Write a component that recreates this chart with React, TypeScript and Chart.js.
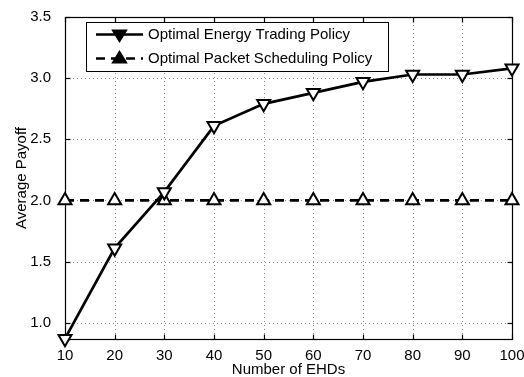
import React, { useEffect, useRef } from "react";
import { Chart, registerables } from "chart.js";
Chart.register(...registerables);

const ehds = [10, 20, 30, 40, 50, 60, 70, 80, 90, 100];
const energyTrading = [0.87, 1.61, 2.07, 2.61, 2.79, 2.88, 2.97, 3.03, 3.03, 3.08];
const packetScheduling = [2.0, 2.0, 2.0, 2.0, 2.0, 2.0, 2.0, 2.0, 2.0, 2.0];
const yTicks = [1.0, 1.5, 2.0, 2.5, 3.0, 3.5];
const xTicks = ehds;
const seriesNames = ["Optimal Energy Trading Policy", "Optimal Packet Scheduling Policy"];

const FONT = "Liberation Sans, Arial, Helvetica, sans-serif";
const FS = 15;

function drawTri(ctx: CanvasRenderingContext2D, cx: number, cy: number, r: number, down: boolean) {
  ctx.beginPath();
  if (down) {
    ctx.moveTo(cx - r, cy - r * 0.6);
    ctx.lineTo(cx + r, cy - r * 0.6);
    ctx.lineTo(cx, cy + r * 1.0);
  } else {
    ctx.moveTo(cx - r, cy + r * 0.6);
    ctx.lineTo(cx + r, cy + r * 0.6);
    ctx.lineTo(cx, cy - r * 1.0);
  }
  ctx.closePath();
}

const framePlugin = {
  id: "frame",
  beforeDatasetsDraw(chart: any) {
    const { ctx, chartArea: a, scales } = chart;
    const x = scales.x, y = scales.y;
    ctx.save();
    ctx.strokeStyle = "#8a8a8a";
    ctx.lineWidth = 1;
    ctx.setLineDash([1, 3]);
    for (const xv of xTicks) {
      const px = Math.round(x.getPixelForValue(xv)) + 0.5;
      if (px <= a.left + 1 || px >= a.right - 1) continue;
      ctx.beginPath(); ctx.moveTo(px, a.top); ctx.lineTo(px, a.bottom); ctx.stroke();
    }
    for (const yv of yTicks) {
      const py = Math.round(y.getPixelForValue(yv)) + 0.5;
      if (py <= a.top + 1 || py >= a.bottom - 1) continue;
      ctx.beginPath(); ctx.moveTo(a.left, py); ctx.lineTo(a.right, py); ctx.stroke();
    }
    ctx.setLineDash([]);
    ctx.strokeStyle = "#000";
    ctx.lineWidth = 1.2;
    const L = Math.round(a.left) + 0.5, R = Math.round(a.right) + 0.5;
    const T = Math.round(a.top) + 0.5, B = Math.round(a.bottom) + 0.5;
    ctx.strokeRect(L, T, R - L, B - T);
    const tl = 5;
    for (const xv of xTicks) {
      const px = Math.round(x.getPixelForValue(xv)) + 0.5;
      ctx.beginPath(); ctx.moveTo(px, B); ctx.lineTo(px, B - tl); ctx.stroke();
      ctx.beginPath(); ctx.moveTo(px, T); ctx.lineTo(px, T + tl); ctx.stroke();
    }
    for (const yv of yTicks) {
      const py = Math.round(y.getPixelForValue(yv)) + 0.5;
      ctx.beginPath(); ctx.moveTo(L, py); ctx.lineTo(L + tl, py); ctx.stroke();
      ctx.beginPath(); ctx.moveTo(R, py); ctx.lineTo(R - tl, py); ctx.stroke();
    }
    ctx.restore();
  },
  afterDraw(chart: any) {
    const { ctx } = chart;
    ctx.save();
    const bx = 86.5, by = 22.5, bw = 302, bh = 49;
    ctx.fillStyle = "#fff";
    ctx.fillRect(bx, by, bw, bh);
    ctx.strokeStyle = "#000";
    ctx.lineWidth = 1;
    ctx.strokeRect(bx, by, bw, bh);
    const rows = [34.5, 58.5];
    for (let i = 0; i < 2; i++) {
      const ry = rows[i];
      ctx.strokeStyle = "#000";
      ctx.lineWidth = 2.5;
      ctx.setLineDash(i === 0 ? [] : [9, 6]);
      ctx.beginPath(); ctx.moveTo(96, ry); ctx.lineTo(143, ry); ctx.stroke();
      ctx.setLineDash([]);
      ctx.fillStyle = "#000";
      ctx.lineWidth = 2;
      drawTri(ctx, 119.5, ry, 6.5, i === 0);
      ctx.fill();
      ctx.stroke();
      ctx.fillStyle = "#000";
      ctx.font = `${FS}px ${FONT}`;
      ctx.textAlign = "left";
      ctx.textBaseline = "middle";
      ctx.fillText(seriesNames[i], 148, ry + 0.5);
    }
    ctx.restore();
  },
};

export default function App() {
  const ref = useRef<HTMLCanvasElement | null>(null);
  useEffect(() => {
    if (!ref.current) return;
    const chart = new Chart(ref.current, {
      type: "line",
      data: {
        datasets: [
          {
            label: seriesNames[0],
            data: ehds.map((v, i) => ({ x: v, y: energyTrading[i] })),
            borderColor: "#000",
            borderWidth: 2.7,
            pointStyle: "triangle",
            rotation: 180,
            pointRadius: 7.5,
            pointBorderWidth: 2,
            pointBackgroundColor: "#fff",
            pointBorderColor: "#000",
            clip: false,
            tension: 0,
          } as any,
          {
            label: seriesNames[1],
            data: ehds.map((v, i) => ({ x: v, y: packetScheduling[i] })),
            borderColor: "#000",
            borderWidth: 2.7,
            borderDash: [9, 6],
            pointStyle: "triangle",
            pointRadius: 7.5,
            pointBorderWidth: 2,
            pointBackgroundColor: "#fff",
            pointBorderColor: "#000",
            clip: false,
            tension: 0,
          } as any,
        ],
      },
      options: {
        animation: false,
        responsive: false,
        maintainAspectRatio: false,
        layout: { padding: { top: 17, right: 12, left: 0, bottom: 0 } },
        plugins: { legend: { display: false }, tooltip: { enabled: false } },
        scales: {
          x: {
            type: "linear",
            min: 10,
            max: 100,
            grid: { display: false },
            border: { display: false },
            afterBuildTicks: (s: any) => { s.ticks = xTicks.map((v) => ({ value: v })); },
            afterFit: (s: any) => { s.height = 38; s.paddingLeft = 0; s.paddingRight = 0; },
            ticks: { color: "#000", font: { family: FONT, size: FS }, padding: 0, maxRotation: 0, autoSkip: false },
            title: { display: true, text: "Number of EHDs", color: "#000", font: { family: FONT, size: FS, lineHeight: 1 }, padding: { top: 0, bottom: 0 } },
          },
          y: {
            type: "linear",
            min: 0.867,
            max: 3.5,
            grid: { display: false },
            border: { display: false },
            afterBuildTicks: (s: any) => { s.ticks = yTicks.map((v) => ({ value: v })); },
            afterFit: (s: any) => { s.width = 65; s.paddingTop = 0; s.paddingBottom = 0; },
            ticks: { color: "#000", font: { family: FONT, size: FS }, padding: 6, callback: (v: any) => Number(v).toFixed(1), autoSkip: false },
            title: { display: true, text: "Average Payoff", color: "#000", font: { family: FONT, size: FS, lineHeight: 1 }, padding: { top: 14, bottom: 0 } },
          },
        },
      } as any,
      plugins: [framePlugin],
    });
    return () => chart.destroy();
  }, []);
  return (
    <div style={{ position: "fixed", left: 0, top: 0, width: 524, height: 377, background: "#fff" }}>
      <canvas ref={ref} width={524} height={377} style={{ width: 524, height: 377 }} />
    </div>
  );
}
